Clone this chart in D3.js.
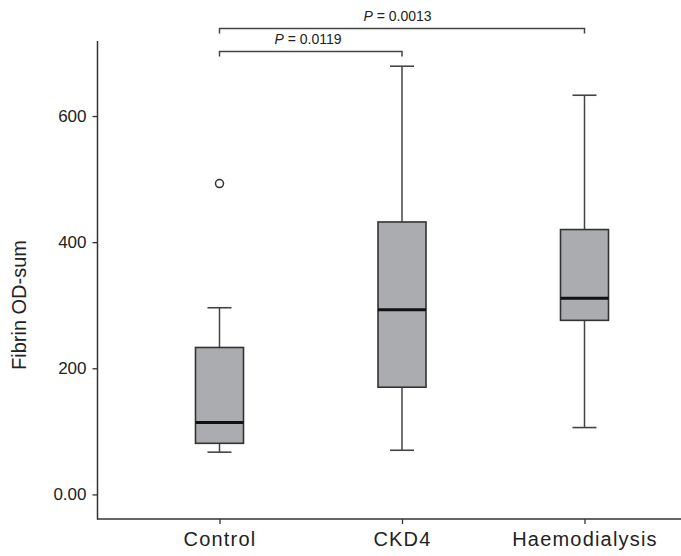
<!DOCTYPE html>
<html>
<head>
<meta charset="utf-8">
<script src="https://cdn.jsdelivr.net/npm/d3@7"></script>
<style>
  body { margin: 0; background: #fff; }
  svg { display: block; font-family: "Liberation Sans", Arial, sans-serif; }
</style>
</head>
<body>
<div id="chart"></div>
<script>
// box plot data
const groups = ["Control", "CKD4", "Haemodialysis"];
const whiskerLow = [67, 70, 106];
const q1 = [81, 170, 276];
const median = [114, 293, 311];
const q3 = [233, 432, 420];
const whiskerHigh = [296, 679, 633];
const outliers = [["Control", 493]];
const yTicks = [0, 200, 400, 600];
const comparisons = [
  { from: "Control", to: "CKD4", p: "0.0119", level: 0 },
  { from: "Control", to: "Haemodialysis", p: "0.0013", level: 1 }
];

const width = 681, height = 556;
const textColor = "#222";

const svg = d3.select("#chart").append("svg")
  .attr("width", width)
  .attr("height", height);

const x = d3.scalePoint()
  .domain(groups)
  .range([219.5, 584.5]);

const y = d3.scaleLinear()
  .domain([-39, 719])
  .range([519, 41]);

// y axis
const yAxis = svg.append("g")
  .attr("transform", "translate(97.5,0)")
  .call(d3.axisLeft(y).tickValues(yTicks).tickSize(5).tickPadding(6)
    .tickFormat(d => d === 0 ? "0.00" : d));
yAxis.select(".domain").remove();
yAxis.append("line")
  .attr("y1", y.range()[1]).attr("y2", y.range()[0] + 0.5)
  .attr("stroke", "#333").attr("stroke-width", 1.5);
yAxis.selectAll(".tick line").attr("stroke", "#333").attr("stroke-width", 1.3);
yAxis.selectAll(".tick text")
  .attr("fill", textColor)
  .style("font-size", "17px");

// x axis
const xAxis = svg.append("g")
  .attr("transform", "translate(0,519)")
  .call(d3.axisBottom(x).tickSize(5).tickPadding(8));
xAxis.select(".domain").remove();
xAxis.append("line")
  .attr("x1", 97).attr("x2", width)
  .attr("stroke", "#333").attr("stroke-width", 1.5);
xAxis.selectAll(".tick line").attr("stroke", "#333").attr("stroke-width", 1.3);
xAxis.selectAll(".tick text")
  .attr("fill", textColor)
  .style("font-size", "20px")
  .style("letter-spacing", "1.2px");

// y label
svg.append("text")
  .attr("transform", "translate(26,305) rotate(-90)")
  .attr("text-anchor", "middle")
  .attr("fill", textColor)
  .style("font-size", "20px")
  .text("Fibrin OD-sum");

// boxes
const boxW = 48, capW = 24;
const boxes = svg.append("g").selectAll("g")
  .data(groups)
  .join("g")
  .attr("transform", d => `translate(${x(d)},0)`);

boxes.append("line")
  .attr("y1", (d, i) => y(whiskerLow[i]))
  .attr("y2", (d, i) => y(whiskerHigh[i]))
  .attr("stroke", "#444").attr("stroke-width", 1.5);

boxes.selectAll(".cap")
  .data((d, i) => [whiskerLow[i], whiskerHigh[i]])
  .join("line")
  .attr("class", "cap")
  .attr("x1", -capW / 2).attr("x2", capW / 2)
  .attr("y1", v => y(v)).attr("y2", v => y(v))
  .attr("stroke", "#444").attr("stroke-width", 1.6);

boxes.append("rect")
  .attr("x", -boxW / 2)
  .attr("width", boxW)
  .attr("y", (d, i) => y(q3[i]))
  .attr("height", (d, i) => y(q1[i]) - y(q3[i]))
  .attr("fill", "#abacaf")
  .attr("stroke", "#333").attr("stroke-width", 1.6);

boxes.append("line")
  .attr("x1", -boxW / 2).attr("x2", boxW / 2)
  .attr("y1", (d, i) => y(median[i])).attr("y2", (d, i) => y(median[i]))
  .attr("stroke", "#111").attr("stroke-width", 3);

// outliers
svg.append("g").selectAll("circle")
  .data(outliers)
  .join("circle")
  .attr("cx", d => x(d[0]))
  .attr("cy", d => y(d[1]))
  .attr("r", 4)
  .attr("fill", "#fff")
  .attr("stroke", "#333").attr("stroke-width", 1.5);

// significance brackets
const br = svg.append("g").selectAll("g")
  .data(comparisons)
  .join("g");
const brY = d => d.level === 0 ? 51.5 : 28.5;
br.append("path")
  .attr("d", d => `M${x(d.from)},${brY(d) + 5}V${brY(d)}H${x(d.to)}V${brY(d) + 5}`)
  .attr("fill", "none")
  .attr("stroke", "#444").attr("stroke-width", 1.5);
const pt = br.append("text")
  .attr("x", d => (d.level === 0 ? 308 : 397.5))
  .attr("y", d => brY(d) - 8)
  .attr("text-anchor", "middle")
  .attr("fill", textColor)
  .style("font-size", "14px");
pt.append("tspan").style("font-style", "italic").text("P");
pt.append("tspan").text(d => " = " + d.p);
</script>
</body>
</html>
